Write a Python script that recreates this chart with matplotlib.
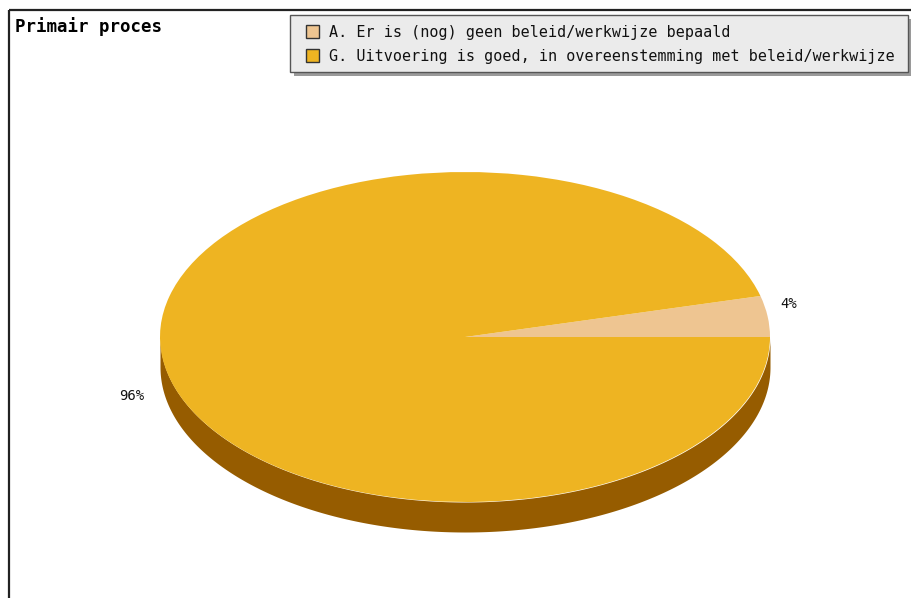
import numpy as np
import matplotlib
matplotlib.use("Agg")
import matplotlib.pyplot as plt
from matplotlib.patches import Rectangle

# Data
title = "Primair proces"
categories = ["A. Er is (nog) geen beleid/werkwijze bepaald",
              "G. Uitvoering is goed, in overeenstemming met beleid/werkwijze"]
values = [4, 96]
colors = ["#EEC591", "#EEB422"]
side_color = "#965C00"

W, H = 911, 598
fig = plt.figure(figsize=(W / 100, H / 100), dpi=100)
fig.patch.set_facecolor("white")

# Pixel-space overlay for frame, title and legend
ov = fig.add_axes([0, 0, 1, 1])
ov.set_xlim(0, W)
ov.set_ylim(H, 0)
ov.axis("off")

# Frame lines (top and left)
ov.plot([9, W], [10, 10], color="#222222", lw=1.6, solid_capstyle="butt")
ov.plot([9, 9], [10, H], color="#222222", lw=1.6, solid_capstyle="butt")

ov.text(15, 27, title, fontsize=12.5, fontweight="bold",
        family="DejaVu Sans Mono", va="center", ha="left", color="black")

# Legend box with drop shadow
lx0, ly0, lx1, ly1 = 290, 15, 908, 72
ov.add_patch(Rectangle((lx0 + 4, ly0 + 4), lx1 - lx0, ly1 - ly0,
                       facecolor="#9a9a9a", edgecolor="none", zorder=2))
ov.add_patch(Rectangle((lx0, ly0), lx1 - lx0, ly1 - ly0,
                       facecolor="#EBEBEB", edgecolor="#555555", lw=1.0, zorder=3))
for i, (lab, c) in enumerate(zip(categories, colors)):
    yc = 32 + i * 24
    ov.add_patch(Rectangle((306, yc - 7), 13, 13, facecolor=c,
                           edgecolor="#333333", lw=1.0, zorder=4))
    ov.text(329, yc, lab, fontsize=10.9, family="DejaVu Sans Mono",
            va="center", ha="left", color="#111111", zorder=5)

# Pie: top ellipse spans x 160..770, y 172..502; depth 30 px
cx_px, cy_px, rx_px, ry_px, depth_px = 465, 337, 305, 165, 30
depth = depth_px / ry_px
ax = fig.add_axes([(cx_px - rx_px) / W,
                   1 - (cy_px + ry_px + depth_px) / H,
                   2 * rx_px / W,
                   (2 * ry_px + depth_px) / H])

# Side wall (front half of the extruded disc)
t = np.linspace(np.pi, 2 * np.pi, 400)
ax.fill_between(np.cos(t), np.sin(t) - depth, np.sin(t),
                color=side_color, lw=0)

wedges, _ = ax.pie(values, colors=colors, startangle=0, counterclock=True,
                   radius=1, center=(0, 0), wedgeprops=dict(lw=0),
                   frame=True)
ax.set_aspect("auto")
ax.set_xlim(-1, 1)
ax.set_ylim(-1 - depth, 1)
ax.axis("off")

# Percentage labels just outside the rim
total = sum(values)
start = 0.0
for v in values:
    mid = np.deg2rad(start + 360 * v / total / 2)
    x = 1.07 * np.cos(mid)
    y = 1.1 * np.sin(mid)
    if np.sin(mid) < 0:
        y -= depth + 0.04
        x -= 0.03
    else:
        y += 0.06
    ax.text(x, y, f"{v}%", fontsize=10, family="DejaVu Sans Mono",
            ha="center", va="center", color="#111111")
    start += 360 * v / total

fig.savefig("out.png", dpi=100, facecolor="white")
